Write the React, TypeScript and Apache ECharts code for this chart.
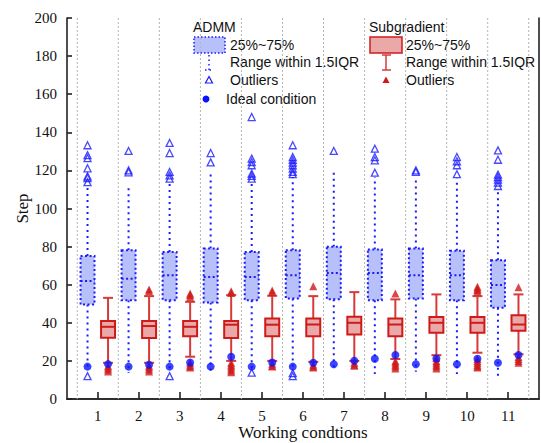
import React, { useEffect, useRef } from "react";
import * as echarts from "echarts";

const conditions = [1, 2, 3, 4, 5, 6, 7, 8, 9, 10, 11];
const gridPositions = [0.5, 1.5, 2.5, 3.5, 4.5, 5.5, 6.5, 7.5, 8.5, 9.5, 10.5, 11.5];

// ADMM
const admmLow = [16, 13.6, 16, 13.1, 16, 15, 14.9, 13.1, 14.3, 13.1, 10.8];
const admmQ1 = [49.6, 51.9, 51.9, 50.7, 51.9, 52.8, 52.3, 51.9, 52.8, 51.9, 47.9];
const admmMed = [62.0, 63.1, 65.0, 64.1, 64.1, 65.0, 66.2, 66.2, 65.0, 65.0, 59.8];
const admmQ3 = [75.1, 78.1, 77.2, 79.0, 77.2, 78.1, 79.9, 78.5, 79.0, 77.8, 72.9];
const admmHigh = [111, 112, 113, 120, 114, 116.5, 119.2, 116.5, 116.5, 115.7, 109.6];
const admmOutliersHigh = [
  [133.2, 128, 126.4, 121.1, 116.9, 116, 113.8],
  [130.2, 120, 119],
  [134.4, 129.1, 119.2, 117.4, 115.7],
  [129.1, 124.2],
  [148, 126.2, 124.4, 122.7, 118.3, 117.1, 115.7],
  [133.2, 127, 125.6, 124.1, 122.7, 120.9, 119.2, 118],
  [130.2],
  [131.4, 127, 125.3, 118.8],
  [120, 119.2],
  [127, 124.8, 122.7, 118],
  [130.5, 125.6, 117.8, 116.5, 115.2, 113.6, 111.8],
];
const admmOutliersLow = [[12], [], [12], [], [13.8], [13.6, 12], [], [], [], [], []];
const admmIdeal = [17, 17, 17, 17, 17, 17, 18.2, 21.1, 18.2, 18.2, 19];

// Subgradient
const subLow = [19, 19, 22.2, 20, 20, 19.5, 20, 21, 23, 24.3, 23.5];
const subQ1 = [32.2, 32, 33, 32, 33, 33, 33.9, 33, 34.8, 34.8, 35.8];
const subMed = [37.9, 38.3, 37.9, 39, 39, 39.1, 40, 39.1, 40, 40, 39.1];
const subQ3 = [41, 41, 41, 41, 42.3, 42.3, 43.2, 42.3, 43, 43, 44];
const subHigh = [53.1, 54, 51, 54.5, 54.2, 54, 56.1, 52.3, 54.9, 54, 54.9];
const subOutliersHigh = [
  [],
  [57.5, 56.5],
  [55.4, 54.6, 53.6],
  [56.6, 55.6],
  [57, 56],
  [59.2],
  [],
  [55.4],
  [],
  [58.9, 58, 57.2, 56.3],
  [58.6],
];
const subOutliersLow = [
  [17.5, 16.5, 15.5, 14.5],
  [17.5, 16.5, 15.5, 14.5],
  [19, 18, 17, 16.5],
  [19, 18, 17, 16, 15, 14],
  [18.5, 17.5, 17],
  [18, 17, 16.5],
  [19, 18, 17.5],
  [20, 19, 18, 17, 16],
  [21.5, 20, 19, 18, 17, 16],
  [21, 20, 19, 18, 17, 16.5],
  [22, 21, 20, 19],
];
const subIdeal = [18.3, 18, 19.2, 22.2, 19.2, 19, 20.1, 23.1, 21.3, 21.1, 23.1];

const OFFSET = 0.25;
const BOX_W = 0.34;

const BLUE = "#1a1aff";
const BLUE_FILL = "#b8c0fa";
const RED = "#cf1a1a";
const RED_WHISKER = "#d83a3a";
const RED_FILL = "#eba8a8";
const SERIF = "'Liberation Serif', 'Times New Roman', serif";
const SANS = "'Liberation Sans', Arial, sans-serif";

function boxRows(low: number[], q1: number[], med: number[], q3: number[], high: number[], off: number) {
  return conditions.map((c, i) => [c + off, low[i], q1[i], med[i], q3[i], high[i]]);
}

function pointRows(lists: number[][], off: number) {
  const out: number[][] = [];
  lists.forEach((arr, i) => arr.forEach((v) => out.push([conditions[i] + off, v])));
  return out;
}

export default function App() {
  const ref = useRef<HTMLDivElement>(null);
  useEffect(() => {
    document.body.style.margin = "0";
    const chart = echarts.init(ref.current!, null, { renderer: "svg" });

    const admmRender = (params: any, api: any) => {
      const x = api.value(0);
      const low = api.coord([x, api.value(1)]);
      const q1 = api.coord([x, api.value(2)]);
      const med = api.coord([x, api.value(3)]);
      const q3 = api.coord([x, api.value(4)]);
      const high = api.coord([x, api.value(5)]);
      const w = api.size([BOX_W, 0])[0];
      const cx = q1[0];
      const wStyle = { stroke: BLUE, lineWidth: 2, lineDash: [2, 4], fill: null };
      return {
        type: "group",
        children: [
          { type: "line", shape: { x1: cx, y1: q3[1], x2: cx, y2: high[1] }, style: wStyle },
          { type: "line", shape: { x1: cx, y1: q1[1], x2: cx, y2: low[1] }, style: wStyle },
          {
            type: "rect",
            shape: { x: cx - w / 2, y: q3[1], width: w, height: q1[1] - q3[1] },
            style: { fill: BLUE_FILL, stroke: BLUE, lineWidth: 2, lineDash: [2, 2.5] },
          },
          {
            type: "line",
            shape: { x1: cx - w / 2, y1: med[1], x2: cx + w / 2, y2: med[1] },
            style: { stroke: BLUE, lineWidth: 2, lineDash: [2, 2.5] },
          },
        ],
      };
    };

    const subRender = (params: any, api: any) => {
      const x = api.value(0);
      const low = api.coord([x, api.value(1)]);
      const q1 = api.coord([x, api.value(2)]);
      const med = api.coord([x, api.value(3)]);
      const q3 = api.coord([x, api.value(4)]);
      const high = api.coord([x, api.value(5)]);
      const w = api.size([BOX_W, 0])[0];
      const cx = q1[0];
      const cap = 5;
      const wStyle = { stroke: RED_WHISKER, lineWidth: 2 };
      return {
        type: "group",
        children: [
          { type: "line", shape: { x1: cx, y1: q3[1], x2: cx, y2: high[1] }, style: wStyle },
          { type: "line", shape: { x1: cx - cap, y1: high[1], x2: cx + cap, y2: high[1] }, style: wStyle },
          { type: "line", shape: { x1: cx, y1: q1[1], x2: cx, y2: low[1] }, style: wStyle },
          { type: "line", shape: { x1: cx - cap, y1: low[1], x2: cx + cap, y2: low[1] }, style: wStyle },
          {
            type: "rect",
            shape: { x: cx - w / 2, y: q3[1], width: w, height: q1[1] - q3[1] },
            style: { fill: RED_FILL, stroke: RED, lineWidth: 2 },
          },
          {
            type: "line",
            shape: { x1: cx - w / 2, y1: med[1], x2: cx + w / 2, y2: med[1] },
            style: { stroke: RED, lineWidth: 2 },
          },
        ],
      };
    };

    const gridRender = (params: any, api: any) => {
      const cs = params.coordSys;
      const p = api.coord([api.value(0), 0]);
      return {
        type: "line",
        shape: { x1: p[0], y1: cs.y, x2: p[0], y2: cs.y + cs.height },
        style: { stroke: "#b4b4b4", lineWidth: 1, lineDash: [2, 2] },
      };
    };

    const legendText = (text: string, x: number, y: number) => ({
      type: "text",
      x,
      y,
      style: { text, fill: "#111", font: `14px ${SANS}`, textVerticalAlign: "middle" },
      silent: true,
    });

    const option: any = {
      animation: false,
      grid: { left: 67, right: 2, top: 18, bottom: 44, containLabel: false, outerBoundsMode: "none" },
      xAxis: [
        {
          type: "value",
          min: 0.25,
          max: 11.75,
          name: "Working condtions",
          nameLocation: "middle",
          nameGap: 24,
          nameMoveOverlap: false,
          nameTextStyle: { fontFamily: SERIF, fontSize: 17, color: "#111", lineHeight: 18 },
          axisLine: { show: true, lineStyle: { color: "#222", width: 1.6 } },
          axisTick: { show: true, inside: true, length: 7, customValues: conditions, lineStyle: { color: "#222", width: 1.6 } },
          axisLabel: { customValues: conditions, fontFamily: SERIF, fontSize: 15, color: "#111", margin: 9 },
          splitLine: { show: false },
        },
        {
          type: "value",
          position: "top",
          min: 0.25,
          max: 11.75,
          axisLine: { show: true, lineStyle: { color: "#222", width: 1.6 } },
          axisTick: { show: false },
          axisLabel: { show: false },
          splitLine: { show: false },
        },
      ],
      yAxis: [
        {
          type: "value",
          min: 0,
          max: 200,
          interval: 20,
          name: "Step",
          nameLocation: "middle",
          nameRotate: 90,
          nameGap: 36,
          nameMoveOverlap: false,
          nameTextStyle: { fontFamily: SERIF, fontSize: 17, color: "#111" },
          axisLine: { show: true, lineStyle: { color: "#222", width: 1.6 } },
          axisTick: { show: true, inside: true, length: 5, lineStyle: { color: "#222", width: 1.6 } },
          axisLabel: { fontFamily: SERIF, fontSize: 15, color: "#111", margin: 10 },
          splitLine: { show: false },
        },
        {
          type: "value",
          position: "right",
          min: 0,
          max: 200,
          axisLine: { show: true, lineStyle: { color: "#222", width: 1.6 } },
          axisTick: { show: false },
          axisLabel: { show: false },
          splitLine: { show: false },
        },
      ],
      series: [
        {
          type: "custom",
          name: "grid",
          z: 1,
          silent: true,
          renderItem: gridRender,
          encode: { x: 0 },
          data: gridPositions.map((v) => [v]),
        },
        {
          type: "custom",
          name: "ADMM",
          z: 2,
          renderItem: admmRender,
          encode: { x: 0, y: [1, 2, 3, 4, 5] },
          data: boxRows(admmLow, admmQ1, admmMed, admmQ3, admmHigh, -OFFSET),
        },
        {
          type: "custom",
          name: "Subgradient",
          z: 2,
          renderItem: subRender,
          encode: { x: 0, y: [1, 2, 3, 4, 5] },
          data: boxRows(subLow, subQ1, subMed, subQ3, subHigh, OFFSET),
        },
        {
          type: "scatter",
          name: "ADMM outliers",
          z: 3,
          symbol: "triangle",
          symbolSize: 7,
          itemStyle: { color: "rgba(255,255,255,0)", borderColor: BLUE, borderWidth: 1.3 },
          data: pointRows(admmOutliersHigh, -OFFSET).concat(pointRows(admmOutliersLow, -OFFSET)),
        },
        {
          type: "scatter",
          name: "Subgradient outliers",
          z: 3,
          symbol: "triangle",
          symbolSize: 8,
          itemStyle: { color: RED },
          data: pointRows(subOutliersHigh, OFFSET).concat(pointRows(subOutliersLow, OFFSET)),
        },
        {
          type: "scatter",
          name: "Ideal condition",
          z: 4,
          symbol: "circle",
          symbolSize: 8,
          itemStyle: { color: "#0a14ff" },
          data: conditions
            .map((c, i) => [c - OFFSET, admmIdeal[i]])
            .concat(conditions.map((c, i) => [c + OFFSET, subIdeal[i]])),
        },
      ],
      graphic: [
        // ADMM legend
        legendText("ADMM", 193, 27),
        {
          type: "rect",
          shape: { x: 194, y: 37, width: 31, height: 16 },
          style: { fill: BLUE_FILL, stroke: BLUE, lineWidth: 1.5, lineDash: [1.5, 2] },
        },
        {
          type: "line",
          shape: { x1: 209, y1: 55, x2: 209, y2: 70 },
          style: { stroke: BLUE, lineWidth: 1.5, lineDash: [1.5, 3] },
        },
        {
          type: "line",
          shape: { x1: 205, y1: 70, x2: 212, y2: 70 },
          style: { stroke: BLUE, lineWidth: 1.5, lineDash: [1.5, 3] },
        },
        legendText("25%~75%", 230, 45),
        legendText("Range within 1.5IQR", 230, 62),
        {
          type: "polygon",
          shape: { points: [[209, 76.5], [205.5, 83], [212.5, 83]] },
          style: { fill: "none", stroke: BLUE, lineWidth: 1.2 },
        },
        legendText("Outliers", 230, 80),
        { type: "circle", shape: { cx: 206, cy: 99, r: 3.5 }, style: { fill: "#0a14ff" } },
        legendText("Ideal condition", 226, 99),
        // Subgradient legend
        legendText("Subgradient", 369, 27),
        {
          type: "rect",
          shape: { x: 370, y: 37, width: 32, height: 16 },
          style: { fill: RED_FILL, stroke: RED, lineWidth: 1.5 },
        },
        { type: "line", shape: { x1: 386, y1: 55, x2: 386, y2: 70 }, style: { stroke: RED_WHISKER, lineWidth: 1.5 } },
        { type: "line", shape: { x1: 382, y1: 55, x2: 391, y2: 55 }, style: { stroke: RED_WHISKER, lineWidth: 1.5 } },
        { type: "line", shape: { x1: 382, y1: 70, x2: 391, y2: 70 }, style: { stroke: RED_WHISKER, lineWidth: 1.5 } },
        legendText("25%~75%", 406, 45),
        legendText("Range within 1.5IQR", 406, 62),
        {
          type: "polygon",
          shape: { points: [[386, 76.5], [382.5, 83], [389.5, 83]] },
          style: { fill: RED },
        },
        legendText("Outliers", 406, 80),
      ],
    };

    chart.setOption(option);
    return () => chart.dispose();
  }, []);
  return <div ref={ref} style={{ width: 541, height: 443 }} />;
}
